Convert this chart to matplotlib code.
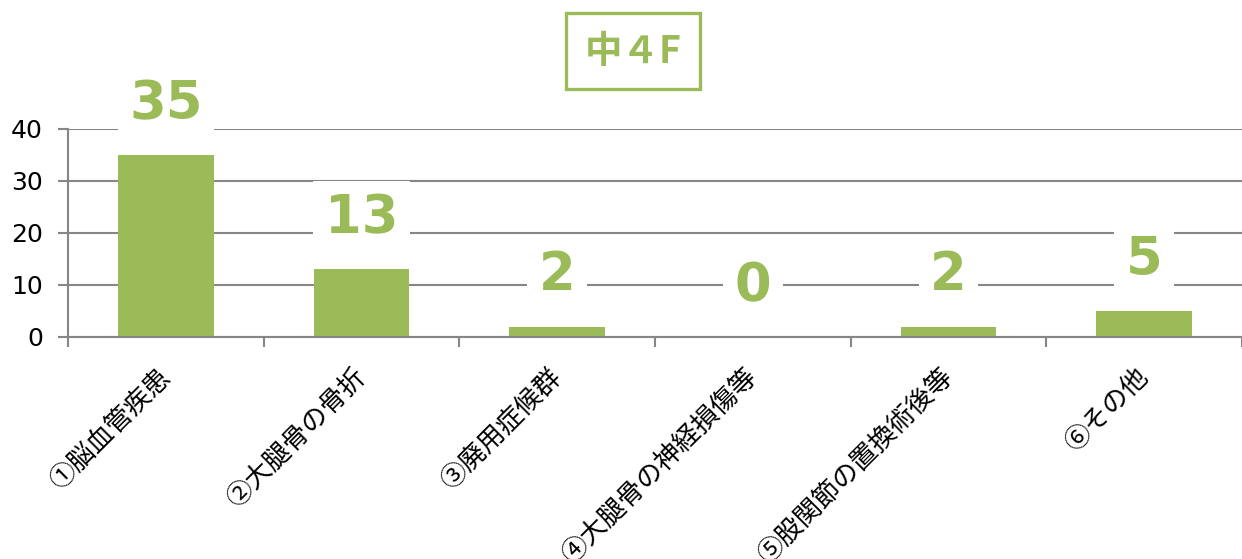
import matplotlib
matplotlib.use("Agg")
import matplotlib.pyplot as plt
import numpy as np

plt.rcParams['font.family'] = ['Noto Sans CJK JP', 'DejaVu Sans']

# data
categories = ["①脳血管疾患", "②大腿骨の骨折", "③廃用症候群",
              "④大腿骨の神経損傷等", "⑤股関節の置換術後等", "⑥その他"]
counts = [35, 13, 2, 0, 2, 5]
title = "中４F"

green = "#9BBB59"
grid_gray = "#868686"

fig = plt.figure(figsize=(12.42, 5.59), dpi=100)
ax = fig.add_axes([68 / 1242, 1 - 337 / 559, 1 - 68 / 1242, (337 - 129) / 559])

x = np.arange(len(categories))
ax.bar(x, counts, width=0.49, color=green, zorder=2)

ax.set_xlim(-0.5, len(categories) - 0.5)
ax.set_ylim(0, 40)
ax.set_yticks(range(0, 41, 10))
ax.yaxis.grid(True, color=grid_gray, lw=1.5, zorder=0)
ax.set_axisbelow(True)

for side in ("top", "right"):
    ax.spines[side].set_visible(False)
for side in ("left", "bottom"):
    ax.spines[side].set_color(grid_gray)
    ax.spines[side].set_linewidth(1.5)

# category labels at centres, tick marks at boundaries
ax.set_xticks(x)
ax.set_xticklabels(categories, rotation=45, ha="right", va="center",
                   rotation_mode="anchor", fontsize=19,
                   family=['Noto Sans CJK JP', 'DejaVu Sans'])
ax.tick_params(axis="x", which="major", length=0, pad=26)
ax.set_xticks(np.arange(-0.5, len(categories)), minor=True)
ax.tick_params(axis="x", which="minor", length=7, width=1.5, color=grid_gray)
ax.tick_params(axis="y", length=7, width=1.5, color=grid_gray, labelsize=18, pad=11)
for lbl in ax.get_yticklabels():
    lbl.set_family("DejaVu Sans")

# data labels
for xi, v in zip(x, counts):
    ax.annotate(str(v), (xi, v), xytext=(0, 26), textcoords="offset points",
                ha="center", va="baseline", fontsize=38, fontweight="bold",
                color=green, family="DejaVu Sans", zorder=3,
                bbox=dict(boxstyle="square,pad=0.22", fc="white", ec="none"),
                annotation_clip=False)

# title box
fig.text(633 / 1242, 1 - 51 / 559, title, ha="center", va="center",
         fontsize=27, fontweight="bold", color=green,
         bbox=dict(boxstyle="square,pad=0.5", fc="white", ec=green, lw=2.4))

fig.savefig("out.png", dpi=100)
